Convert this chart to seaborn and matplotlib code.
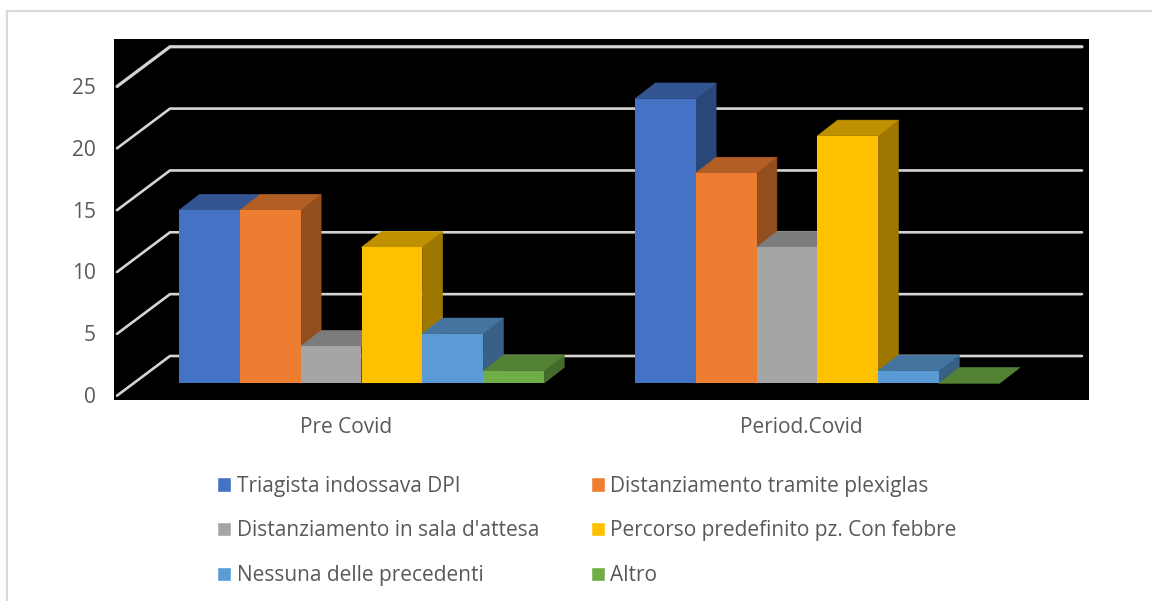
import matplotlib
matplotlib.use("Agg")
import matplotlib.pyplot as plt
from matplotlib.colors import to_rgb
from matplotlib.lines import Line2D
from matplotlib.patches import Polygon
import pandas as pd
import seaborn as sns

periods = ["Pre Covid", "Period.Covid"]
measures = [
    "Triagista indossava DPI",
    "Distanziamento tramite plexiglas",
    "Distanziamento in sala d'attesa",
    "Percorso predefinito pz. Con febbre",
    "Nessuna delle precedenti",
    "Altro",
]
pre_covid = [14, 14, 3, 11, 4, 1]
period_covid = [23, 17, 11, 20, 1, 0]
value_ticks = [0, 5, 10, 15, 20, 25]
colors = ["#4472C4", "#ED7D31", "#A5A5A5", "#FFC000", "#5B9BD5", "#70AD47"]

TEXT = "#595959"
GRID = "#D4D4D4"
W, H = 1152, 601
PX_X = 455.8       # pixels per category
PX_Y = 12.37       # pixels per value unit

sns.set_theme(style="white")
plt.rcParams["font.family"] = ["Open Sans", "DejaVu Sans"]

df = pd.DataFrame({
    "period": periods * len(measures),
    "measure": [m for m in measures for _ in periods],
    "value": [v for pair in zip(pre_covid, period_covid) for v in pair],
})

fig = plt.figure(figsize=(W / 100, H / 100), dpi=100, facecolor="white")
ax = fig.add_axes([114 / W, 1 - 400 / H, 975 / W, 361 / H], facecolor="black")

sns.barplot(data=df, x="period", y="value", hue="measure", order=periods,
            hue_order=measures, palette=colors, saturation=1, width=0.8,
            gap=0, dodge=True, ax=ax)
handles, labels = ax.get_legend_handles_labels()
ax.get_legend().remove()

ax.set_xlim(-247.5 / PX_X, 727.5 / PX_X)
ax.set_ylim(-16.7 / PX_Y, 344.3 / PX_Y)

# Oblique depth of the bars and of the chart floor, in data units
bar_dx, bar_dy = 20.4 / PX_X, 15.8 / PX_Y
wall_dx, wall_dy = 53 / PX_X, 39.7 / PX_Y
floor_front = -12.4 / PX_Y
x_front = -244.5 / PX_X
x_back = x_front + wall_dx
x_right = 720.5 / PX_X

# Back wall lines with their diagonal run towards the value axis
for v in value_ticks:
    y_f = v + floor_front
    y_b = y_f + wall_dy
    lw = 2.3 if v == value_ticks[-1] else 1.9
    ax.add_line(Line2D([x_front, x_back, x_right], [y_f, y_b, y_b], color=GRID,
                       lw=lw, zorder=1, solid_joinstyle="miter"))


def shade(color, factor):
    return tuple(c * factor for c in to_rgb(color))


# Each bar gets a side and a top face; bars further right sit in front
bars = [(p, c) for cont, c in zip(ax.containers, colors) for p in cont]
for p, c in bars:
    x0, x1, h = p.get_x(), p.get_x() + p.get_width(), p.get_height()
    z = 3 + x0
    p.set_zorder(z + 0.2)
    p.set_edgecolor("none")
    top = [(x0, h), (x1, h), (x1 + bar_dx, h + bar_dy), (x0 + bar_dx, h + bar_dy)]
    ax.add_patch(Polygon(top, closed=True, fc=shade(c, 0.75), ec=shade(c, 0.75),
                         lw=0.4, zorder=z + 0.1))
    if h > 0:
        side = [(x1, 0), (x1 + bar_dx, bar_dy), (x1 + bar_dx, h + bar_dy), (x1, h)]
        ax.add_patch(Polygon(side, closed=True, fc=shade(c, 0.62), ec=shade(c, 0.62),
                             lw=0.4, zorder=z))

for s in ax.spines.values():
    s.set_visible(False)
ax.grid(False)
ax.set_xlabel("")
ax.set_ylabel("")
ax.set_yticks([v + floor_front + 0.6 / PX_Y for v in value_ticks],
              labels=[str(v) for v in value_ticks])
ax.set_xticks([i - 15.6 / PX_X for i in range(len(periods))], labels=periods)
ax.tick_params(axis="y", length=0, pad=13, labelsize=15, labelcolor=TEXT)
ax.tick_params(axis="x", length=0, pad=12.2, labelsize=15, labelcolor=TEXT)

# Legend entries read across the rows
order = [0, 2, 4, 1, 3, 5]
fig.legend([handles[i] for i in order], [labels[i] for i in order], ncol=2,
           loc="upper left", bbox_to_anchor=(213 / W, 1 - 471.5 / H), frameon=False,
           fontsize=15, labelcolor=TEXT, handlelength=0.68, handleheight=0.68,
           handletextpad=0.25, columnspacing=2.5, labelspacing=1.14,
           borderpad=0.2, borderaxespad=0)

# Chart frame
for xs, ys in [((7, W), (10.5, 10.5)), ((7, 7), (10.5, H))]:
    fig.add_artist(Line2D([x / W for x in xs], [1 - y / H for y in ys],
                          color="#D9D9D9", lw=1.5))

fig.savefig("out.png", dpi=100, facecolor="white")
